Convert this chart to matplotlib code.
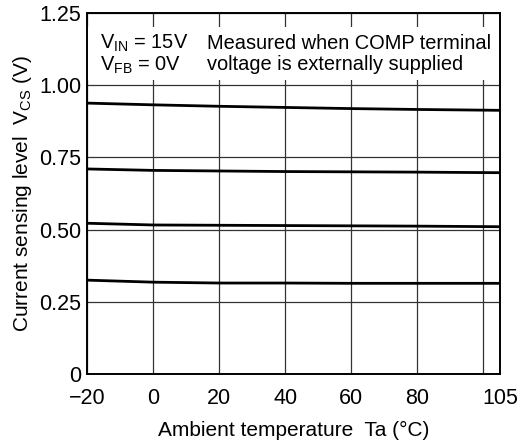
import matplotlib.pyplot as plt
from matplotlib.patches import Rectangle

plt.rcParams["font.family"] = ["Liberation Sans", "DejaVu Sans"]
plt.rcParams["mathtext.fontset"] = "custom"
plt.rcParams["mathtext.rm"] = "Liberation Sans"
plt.rcParams["mathtext.it"] = "Liberation Sans"

# current sensing level vs ambient temperature (four COMP settings)
temp = [-20, 0, 20, 40, 60, 80, 105]
vcs_1 = [0.938, 0.932, 0.927, 0.923, 0.919, 0.916, 0.913]
vcs_2 = [0.710, 0.705, 0.703, 0.701, 0.700, 0.699, 0.697]
vcs_3 = [0.522, 0.516, 0.515, 0.514, 0.513, 0.512, 0.510]
vcs_4 = [0.325, 0.318, 0.315, 0.315, 0.314, 0.314, 0.314]

xticks = [-20, 0, 20, 40, 60, 80, 100, 105]
xticklabels = ["\u221220", "0", "20", "40", "60", "80", "", "105"]
yticks = [0, 0.25, 0.5, 0.75, 1.0, 1.25]
yticklabels = ["0", "0.25", "0.50", "0.75", "1.00", "1.25"]

fig = plt.figure(figsize=(5.21, 4.42), dpi=100)
ax = fig.add_axes([87 / 521, 1 - 374 / 442, 413 / 521, 361 / 442])

for v in (vcs_1, vcs_2, vcs_3, vcs_4):
    ax.plot(temp, v, color="black", lw=2.0, zorder=4)

ax.set_xlim(-20, 105)
ax.set_ylim(0, 1.25)
ax.set_xticks(xticks)
ax.set_xticklabels(xticklabels)
ax.set_yticks(yticks)
ax.set_yticklabels(yticklabels)
ax.tick_params(length=0, labelsize=15.5)
ax.tick_params(axis="x", pad=10)
ax.tick_params(axis="y", pad=4)
ax.grid(True, color="#333333", lw=0.9, zorder=1)
ax.set_axisbelow(True)
for s in ax.spines.values():
    s.set_linewidth(1.4)
    s.set_zorder(6)

# white box behind the conditions text
ax.add_patch(Rectangle((-20, 1.018), 125, 0.184, facecolor="white",
                       edgecolor="none", zorder=2))
tk = dict(fontsize=14.4, color="black", zorder=5, va="center")
ax.text(-16.2, 1.145, "V$_{\\mathrm{IN}}$ = 15V", **tk)
ax.text(-16.2, 1.07, "V$_{\\mathrm{FB}}$ = 0V", **tk)
ax.text(16.3, 1.145, "Measured when COMP terminal", **tk)
ax.text(16.3, 1.07, "voltage is externally supplied", **tk)

ax.set_xlabel("Ambient temperature  Ta (\u00b0C)", fontsize=15, labelpad=9)
ax.set_ylabel("Current sensing level  V$_{\\mathrm{CS}}$ (V)", fontsize=15, labelpad=4)

fig.savefig("out.png", dpi=100)
